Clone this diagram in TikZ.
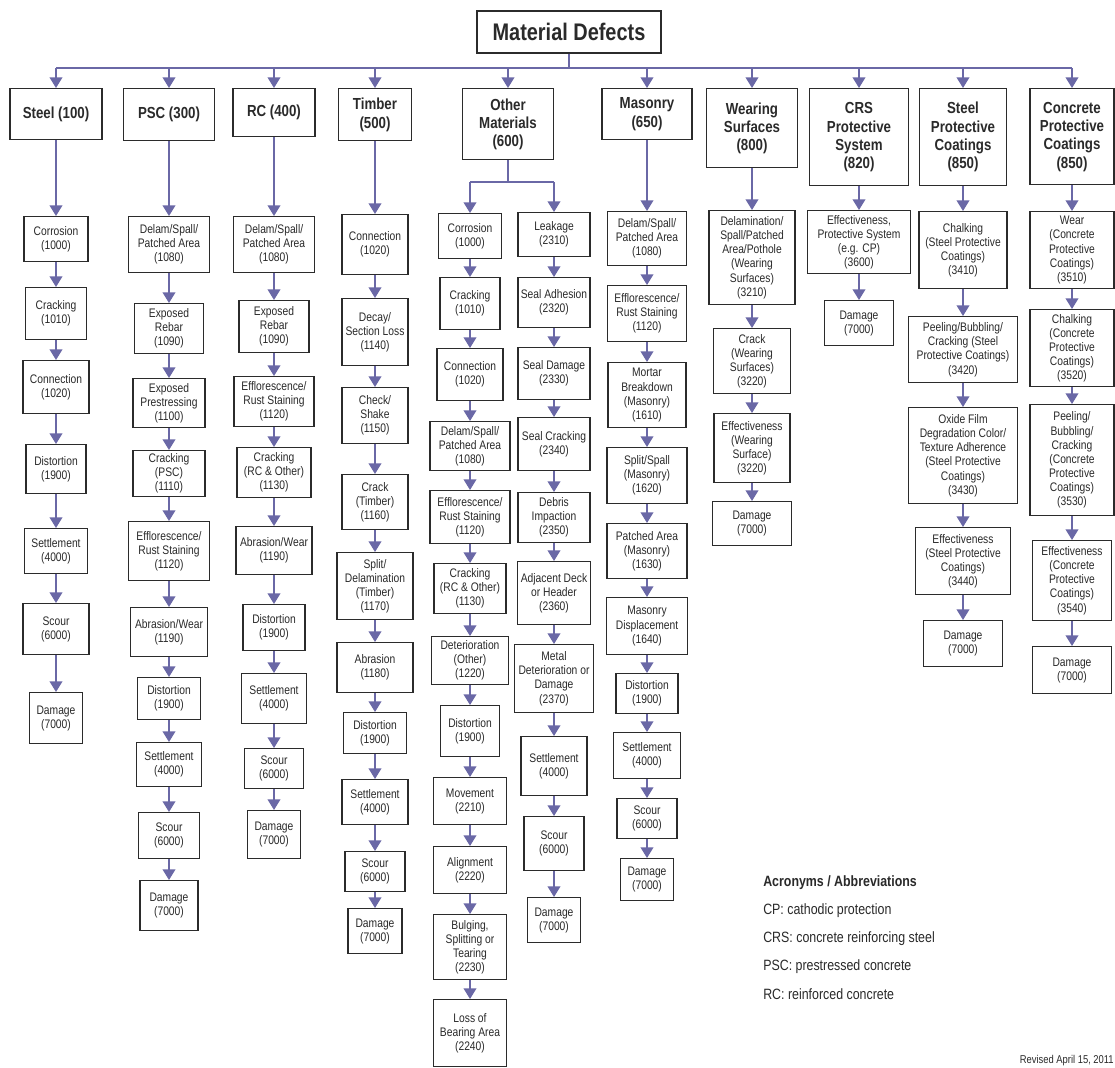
\documentclass[tikz,border=0pt]{standalone}
\usepackage{fontspec}
\setmainfont[FakeStretch=0.83]{Liberation Sans}
\usetikzlibrary{arrows.meta}
\definecolor{arrc}{HTML}{6A68A6}
\definecolor{boxc}{HTML}{2B2B2B}
\definecolor{txtc}{HTML}{2A2A2A}
\tikzset{
  bw/.style={minimum width=#1*0.75pt},
  bh/.style={minimum height=#1*0.75pt},
  sb/.style={draw=boxc, line width=0.9pt, fill=white, text=txtc, align=center,
    inner sep=1pt, anchor=north, font=\fontsize{9.3}{10.6}\selectfont},
  hb/.style={sb, line width=1.1pt, font=\fontsize{12}{13.7}\selectfont\bfseries},
  ln/.style={draw=arrc, line width=1.3pt},
  arr/.style={ln, -{Triangle[width=9.5pt,length=8pt]}},
  note/.style={anchor=west, text=txtc, inner sep=0pt, font=\fontsize{11.2}{13}\selectfont},
}
\begin{document}
\begin{tikzpicture}[x=0.75pt,y=-0.75pt]
\useasboundingbox[fill=white] (0,0) rectangle (1115,1068);

% root and bus
\node[hb,bw=184,bh=42,line width=1.3pt,font=\fontsize{18}{20}\selectfont\bfseries] (root) at (569,10) {Material Defects};
\coordinate (bus) at (569,68);
\coordinate (busL) at (56,68);
\coordinate (busR) at (1072,68);
\draw[ln] (root.south) -- (bus);
\draw[ln] (busL) -- (busR);

% headers
\node[hb,bw=92,bh=51] (hst) at (56,88) {Steel (100)};
\node[hb,bw=91,bh=52] (hps) at (169,88) {PSC (300)};
\node[hb,bw=82,bh=48] (hrc) at (274,88) {RC (400)};
\node[hb,bw=73,bh=52] (hti) at (375,88) {Timber\\(500)};
\node[hb,bw=91,bh=71] (hot) at (508,88) {Other\\Materials\\(600)};
\node[hb,bw=90,bh=51] (hma) at (647,88) {Masonry\\(650)};
\node[hb,bw=91,bh=79] (hwe) at (752,88) {Wearing\\Surfaces\\(800)};
\node[hb,bw=99,bh=97] (hcr) at (859,88) {CRS\\Protective\\System\\(820)};
\node[hb,bw=87,bh=97] (hsp) at (963,88) {Steel\\Protective\\Coatings\\(850)};
\node[hb,bw=84,bh=96] (hcp) at (1072,88) {Concrete\\Protective\\Coatings\\(850)};

\foreach \h in {hst,hps,hrc,hti,hot,hma,hwe,hcr,hsp,hcp}
  \draw[arr] (\h.north |- bus) -- (\h.north);

% Steel
\node[sb,bw=64,bh=45] (st1) at (56,216) {Corrosion\\(1000)};
\node[sb,bw=61,bh=52] (st2) at (56,287) {Cracking\\(1010)};
\node[sb,bw=66,bh=53] (st3) at (56,360) {Connection\\(1020)};
\node[sb,bw=60,bh=49] (st4) at (56,444) {Distortion\\(1900)};
\node[sb,bw=63,bh=45] (st5) at (56,528) {Settlement\\(4000)};
\node[sb,bw=66,bh=51] (st6) at (56,603) {Scour\\(6000)};
\node[sb,bw=53,bh=51] (st7) at (56,692) {Damage\\(7000)};

% PSC
\node[sb,bw=81,bh=56] (ps1) at (169,216) {Delam/Spall/\\Patched Area\\(1080)};
\node[sb,bw=69,bh=50] (ps2) at (169,303) {Exposed\\Rebar\\(1090)};
\node[sb,bw=72,bh=49] (ps3) at (169,378) {Exposed\\Prestressing\\(1100)};
\node[sb,bw=72,bh=46] (ps4) at (169,450) {Cracking\\(PSC)\\(1110)};
\node[sb,bw=81,bh=59] (ps5) at (169,521) {Efflorescence/\\Rust Staining\\(1120)};
\node[sb,bw=77,bh=49] (ps6) at (169,607) {Abrasion/Wear\\(1190)};
\node[sb,bw=63,bh=42] (ps7) at (169,677) {Distortion\\(1900)};
\node[sb,bw=65,bh=44] (ps8) at (169,742) {Settlement\\(4000)};
\node[sb,bw=61,bh=46] (ps9) at (169,812) {Scour\\(6000)};
\node[sb,bw=58,bh=50] (ps10) at (169,880) {Damage\\(7000)};

% RC
\node[sb,bw=81,bh=56] (rc1) at (274,216) {Delam/Spall/\\Patched Area\\(1080)};
\node[sb,bw=70,bh=52] (rc2) at (274,300) {Exposed\\Rebar\\(1090)};
\node[sb,bw=80,bh=50] (rc3) at (274,376) {Efflorescence/\\Rust Staining\\(1120)};
\node[sb,bw=74,bh=50] (rc4) at (274,447) {Cracking\\(RC \& Other)\\(1130)};
\node[sb,bw=76,bh=48] (rc5) at (274,526) {Abrasion/Wear\\(1190)};
\node[sb,bw=62,bh=46] (rc6) at (274,604) {Distortion\\(1900)};
\node[sb,bw=65,bh=50] (rc7) at (274,673) {Settlement\\(4000)};
\node[sb,bw=59,bh=40] (rc8) at (274,748) {Scour\\(6000)};
\node[sb,bw=53,bh=48] (rc9) at (274,810) {Damage\\(7000)};

% Timber
\node[sb,bw=66,bh=60] (ti1) at (375,214) {Connection\\(1020)};
\node[sb,bw=66,bh=67] (ti2) at (375,298) {Decay/\\Section Loss\\(1140)};
\node[sb,bw=66,bh=56] (ti3) at (375,387) {Check/\\Shake\\(1150)};
\node[sb,bw=66,bh=55] (ti4) at (375,474) {Crack\\(Timber)\\(1160)};
\node[sb,bw=76,bh=67] (ti5) at (375,552) {Split/\\Delamination\\(Timber)\\(1170)};
\node[sb,bw=76,bh=50] (ti6) at (375,642) {Abrasion\\(1180)};
\node[sb,bw=63,bh=41] (ti7) at (375,712) {Distortion\\(1900)};
\node[sb,bw=66,bh=45] (ti8) at (375,779) {Settlement\\(4000)};
\node[sb,bw=60,bh=40] (ti9) at (375,851) {Scour\\(6000)};
\node[sb,bw=54,bh=45] (ti10) at (375,908) {Damage\\(7000)};

% Other materials: branch
\coordinate (ob) at (508,182);
\coordinate (obL) at (470,182);
\coordinate (obR) at (554,182);
\draw[ln] (hot.south) -- (ob);
\draw[ln] (obL) -- (obR);

% Other left
\node[sb,bw=63,bh=45] (ol1) at (470,213) {Corrosion\\(1000)};
\node[sb,bw=60,bh=52] (ol2) at (470,277) {Cracking\\(1010)};
\node[sb,bw=66,bh=52] (ol3) at (470,348) {Connection\\(1020)};
\node[sb,bw=80,bh=49] (ol4) at (470,421) {Delam/Spall/\\Patched Area\\(1080)};
\node[sb,bw=80,bh=53] (ol5) at (470,490) {Efflorescence/\\Rust Staining\\(1120)};
\node[sb,bw=72,bh=50] (ol6) at (470,563) {Cracking\\(RC \& Other)\\(1130)};
\node[sb,bw=77,bh=48] (ol7) at (470,636) {Deterioration\\(Other)\\(1220)};
\node[sb,bw=59,bh=51] (ol8) at (470,705) {Distortion\\(1900)};
\node[sb,bw=73,bh=47] (ol9) at (470,777) {Movement\\(2210)};
\node[sb,bw=73,bh=47] (ol10) at (470,846) {Alignment\\(2220)};
\node[sb,bw=73,bh=65] (ol11) at (470,914) {Bulging,\\Splitting or\\Tearing\\(2230)};
\node[sb,bw=73,bh=67] (ol12) at (470,999) {Loss of\\Bearing Area\\(2240)};

% Other right
\node[sb,bw=72,bh=44] (or1) at (554,212) {Leakage\\(2310)};
\node[sb,bw=72,bh=50] (or2) at (554,277) {Seal Adhesion\\(2320)};
\node[sb,bw=72,bh=52] (or3) at (554,347) {Seal Damage\\(2330)};
\node[sb,bw=72,bh=53] (or4) at (554,417) {Seal Cracking\\(2340)};
\node[sb,bw=72,bh=50] (or5) at (554,492) {Debris\\Impaction\\(2350)};
\node[sb,bw=73,bh=63] (or6) at (554,561) {Adjacent Deck\\or Header\\(2360)};
\node[sb,bw=79,bh=68] (or7) at (554,644) {Metal\\Deterioration or\\Damage\\(2370)};
\node[sb,bw=66,bh=59] (or8) at (554,736) {Settlement\\(4000)};
\node[sb,bw=60,bh=54] (or9) at (554,816) {Scour\\(6000)};
\node[sb,bw=53,bh=45] (or10) at (554,897) {Damage\\(7000)};

\draw[arr] (ol1.north |- ob) -- (ol1.north);
\draw[arr] (or1.north |- ob) -- (or1.north);

% Masonry
\node[sb,bw=79,bh=54] (ma1) at (647,211) {Delam/Spall/\\Patched Area\\(1080)};
\node[sb,bw=79,bh=56] (ma2) at (647,285) {Efflorescence/\\Rust Staining\\(1120)};
\node[sb,bw=78,bh=65] (ma3) at (647,362) {Mortar\\Breakdown\\(Masonry)\\(1610)};
\node[sb,bw=80,bh=56] (ma4) at (647,447) {Split/Spall\\(Masonry)\\(1620)};
\node[sb,bw=80,bh=55] (ma5) at (647,523) {Patched Area\\(Masonry)\\(1630)};
\node[sb,bw=81,bh=57] (ma6) at (647,597) {Masonry\\Displacement\\(1640)};
\node[sb,bw=62,bh=40] (ma7) at (647,673) {Distortion\\(1900)};
\node[sb,bw=67,bh=46] (ma8) at (647,732) {Settlement\\(4000)};
\node[sb,bw=60,bh=40] (ma9) at (647,798) {Scour\\(6000)};
\node[sb,bw=53,bh=42] (ma10) at (647,858) {Damage\\(7000)};

% Wearing surfaces
\node[sb,bw=86,bh=94] (we1) at (752,210) {Delamination/\\Spall/Patched\\Area/Pothole\\(Wearing\\Surfaces)\\(3210)};
\node[sb,bw=77,bh=65] (we2) at (752,328) {Crack\\(Wearing\\Surfaces)\\(3220)};
\node[sb,bw=76,bh=69] (we3) at (752,413) {Effectiveness\\(Wearing\\Surface)\\(3220)};
\node[sb,bw=79,bh=44] (we4) at (752,501) {Damage\\(7000)};

% CRS
\node[sb,bw=103,bh=63] (cr1) at (859,210) {Effectiveness,\\Protective System\\(e.g. CP)\\(3600)};
\node[sb,bw=69,bh=45] (cr2) at (859,300) {Damage\\(7000)};

% Steel protective coatings
\node[sb,bw=88,bh=77] (sp1) at (963,211) {Chalking\\(Steel Protective\\Coatings)\\(3410)};
\node[sb,bw=109,bh=66] (sp2) at (963,316) {Peeling/Bubbling/\\Cracking (Steel\\Protective Coatings)\\(3420)};
\node[sb,bw=109,bh=96] (sp3) at (963,407) {Oxide Film\\Degradation Color/\\Texture Adherence\\(Steel Protective\\Coatings)\\(3430)};
\node[sb,bw=95,bh=67] (sp4) at (963,527) {Effectiveness\\(Steel Protective\\Coatings)\\(3440)};
\node[sb,bw=79,bh=46] (sp5) at (963,620) {Damage\\(7000)};

% Concrete protective coatings
\node[sb,bw=84,bh=77] (cp1) at (1072,211) {Wear\\(Concrete\\Protective\\Coatings)\\(3510)};
\node[sb,bw=84,bh=77] (cp2) at (1072,309) {Chalking\\(Concrete\\Protective\\Coatings)\\(3520)};
\node[sb,bw=84,bh=111] (cp3) at (1072,404) {Peeling/\\Bubbling/\\Cracking\\(Concrete\\Protective\\Coatings)\\(3530)};
\node[sb,bw=79,bh=80] (cp4) at (1072,540) {Effectiveness\\(Concrete\\Protective\\Coatings)\\(3540)};
\node[sb,bw=79,bh=47] (cp5) at (1072,646) {Damage\\(7000)};

% chains
\foreach \a/\b in {hst/st1,st1/st2,st2/st3,st3/st4,st4/st5,st5/st6,st6/st7,
  hps/ps1,ps1/ps2,ps2/ps3,ps3/ps4,ps4/ps5,ps5/ps6,ps6/ps7,ps7/ps8,ps8/ps9,ps9/ps10,
  hrc/rc1,rc1/rc2,rc2/rc3,rc3/rc4,rc4/rc5,rc5/rc6,rc6/rc7,rc7/rc8,rc8/rc9,
  hti/ti1,ti1/ti2,ti2/ti3,ti3/ti4,ti4/ti5,ti5/ti6,ti6/ti7,ti7/ti8,ti8/ti9,ti9/ti10,
  ol1/ol2,ol2/ol3,ol3/ol4,ol4/ol5,ol5/ol6,ol6/ol7,ol7/ol8,ol8/ol9,ol9/ol10,ol10/ol11,ol11/ol12,
  or1/or2,or2/or3,or3/or4,or4/or5,or5/or6,or6/or7,or7/or8,or8/or9,or9/or10,
  hma/ma1,ma1/ma2,ma2/ma3,ma3/ma4,ma4/ma5,ma5/ma6,ma6/ma7,ma7/ma8,ma8/ma9,ma9/ma10,
  hwe/we1,we1/we2,we2/we3,we3/we4,
  hcr/cr1,cr1/cr2,
  hsp/sp1,sp1/sp2,sp2/sp3,sp3/sp4,sp4/sp5,
  hcp/cp1,cp1/cp2,cp2/cp3,cp3/cp4,cp4/cp5}
  \draw[arr] (\a.south) -- (\b.north);

% notes
\node[note,font=\fontsize{11.2}{13}\selectfont\bfseries] (ac0) at (763,883) {Acronyms / Abbreviations};
\node[note] (ac1) at (763,911) {CP: cathodic protection};
\node[note] (ac2) at (763,939) {CRS: concrete reinforcing steel};
\node[note] (ac3) at (763,967) {PSC: prestressed concrete};
\node[note] (ac4) at (763,994) {RC: reinforced concrete};
\node[note,anchor=east,font=\fontsize{8.5}{10}\selectfont] (rev) at (1114,1061) {Revised April 15, 2011};
\end{tikzpicture}
\end{document}
